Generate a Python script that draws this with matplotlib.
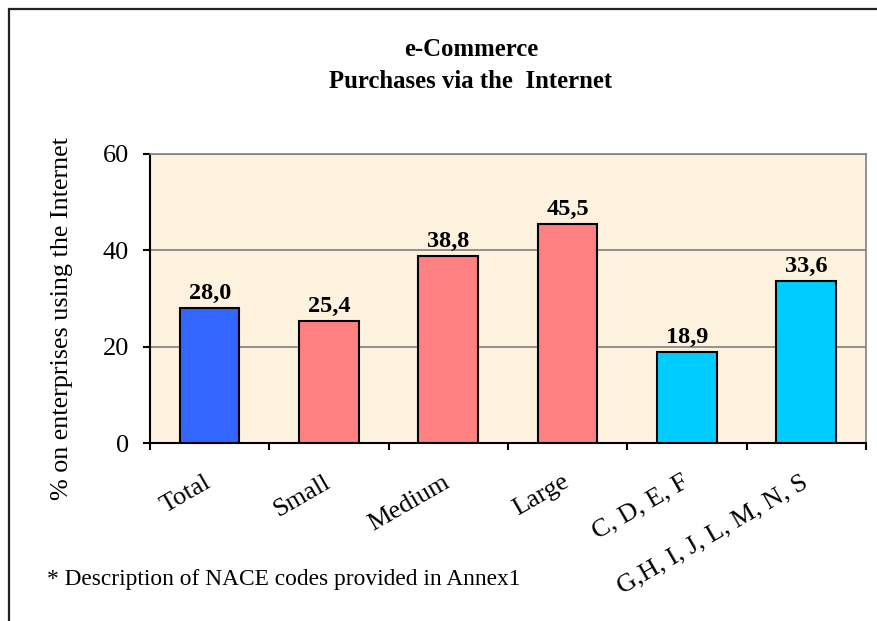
import matplotlib
matplotlib.use('Agg')
import matplotlib.pyplot as plt
from matplotlib.patches import Rectangle
from matplotlib.ticker import FixedLocator
import numpy as np

categories = ['Total', 'Small', 'Medium', 'Large', 'C, D, E, F', 'G,H, I, J, L, M, N, S']
values = [28.0, 25.4, 38.8, 45.5, 18.9, 33.6]
value_labels = ['28,0', '25,4', '38,8', '45,5', '18,9', '33,6']
colors = ['#3366FF', '#FF8080', '#FF8080', '#FF8080', '#00CCFF', '#00CCFF']
yticks = [0, 20, 40, 60]
title_lines = ['e-Commerce', 'Purchases via the  Internet']
ylabel = '% on enterprises using the Internet'
footnote = '* Description of NACE codes provided in Annex1'

plt.rcParams['font.family'] = ['Liberation Serif', 'DejaVu Serif']

W, H = 878, 621
fig = plt.figure(figsize=(W / 100, H / 100), dpi=100)
fig.patch.set_facecolor('white')

# outer frame
fig.add_artist(Rectangle((9 / W, -0.1), 1.2, 1 - 9 / H + 0.1, transform=fig.transFigure,
                         fill=False, edgecolor='#222222', linewidth=1.6))

ax = fig.add_axes([150 / W, 1 - 443 / H, (866 - 150) / W, (443 - 154) / H])
ax.set_facecolor('#FCF2DD')

x = np.arange(len(categories))
ax.bar(x, values, width=0.5, color=colors, edgecolor='black', linewidth=1.5, zorder=3)

for xi, v, lab in zip(x, values, value_labels):
    ax.annotate(lab, (xi, v), xytext=(0, 3), textcoords='offset points',
                ha='center', va='bottom', fontsize=17.5, fontweight='bold', zorder=4)

ax.set_xlim(-0.5, len(categories) - 0.5)
ax.set_ylim(0, 60)
ax.set_yticks(yticks)
ax.set_yticklabels([str(t) for t in yticks], fontsize=19)
ax.yaxis.grid(True, color='#808080', linewidth=1.2, zorder=1)
ax.set_axisbelow(True)

ax.set_xticks(x)
ax.set_xticklabels(categories, rotation=30, ha='right', va='center',
                   rotation_mode='anchor', fontsize=19)
ax.xaxis.set_minor_locator(FixedLocator(np.arange(-0.5, len(categories), 1.0)))
ax.tick_params(axis='x', which='major', length=0, pad=27)
ax.tick_params(axis='x', which='minor', length=5, width=1.5, direction='out')
ax.tick_params(axis='y', which='major', length=5, width=1.5, direction='out', pad=10)

for s in ['left', 'bottom']:
    ax.spines[s].set_color('black')
    ax.spines[s].set_linewidth(1.5)
for s in ['top', 'right']:
    ax.spines[s].set_color('#808080')
    ax.spines[s].set_linewidth(1.2)

fig.text(471 / W, 1 - 50 / H, title_lines[0], ha='center', va='center', fontsize=17.8,
         fontweight='bold')
fig.text(471 / W, 1 - 81 / H, title_lines[1], ha='center', va='center', fontsize=17.8,
         fontweight='bold')
fig.text(62 / W, 1 - 318 / H, ylabel, rotation=90, ha='center', va='center', fontsize=18.8)
fig.text(47 / W, 1 - 580 / H, footnote, ha='left', va='center', fontsize=16.8)

fig.savefig('out.png', dpi=100)
